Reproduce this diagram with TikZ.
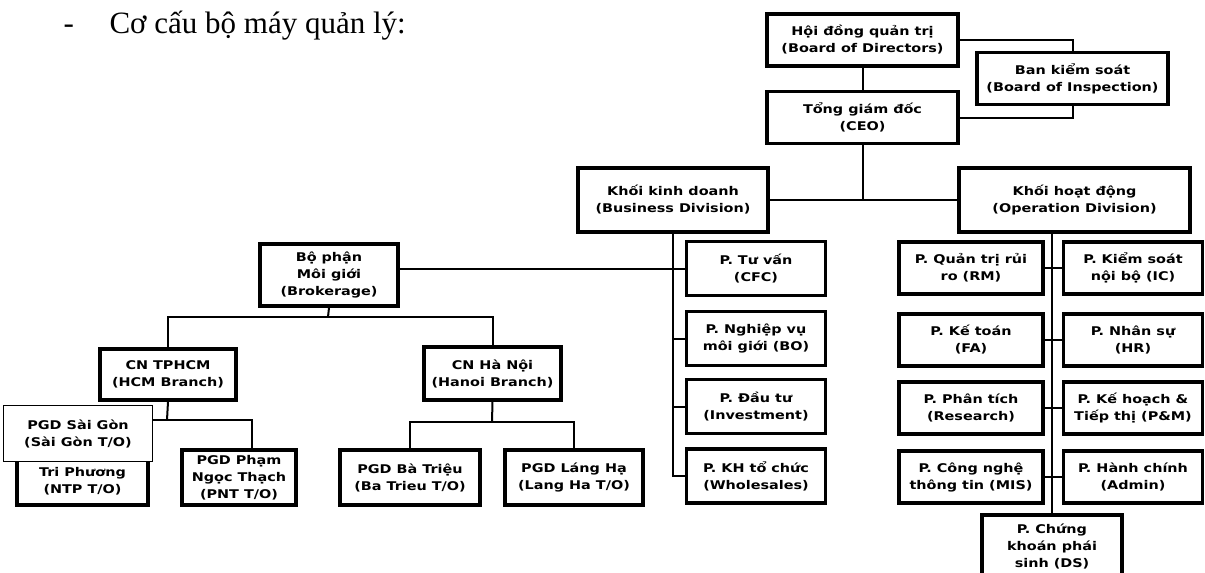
\documentclass[tikz,border=0pt]{standalone}
\usepackage{fontspec}
\setmainfont{Liberation Serif}
\newfontfamily\boxfont{DejaVu Sans}[FakeStretch=1.2]
\usetikzlibrary{backgrounds}

\begin{document}
\begin{tikzpicture}[
    x=1pt, y=-1pt,
    unit/.style={
        rectangle,
        draw=black,
        line width=3.5pt,
        fill=white,
        inner sep=0pt,
        minimum width=139pt,
        minimum height=54pt,
        font=\boxfont\bfseries\fontsize{12}{17}\selectfont,
        align=center
    },
    top/.style={minimum width=191pt, minimum height=52pt},
    thin/.style={line width=1pt},
    link/.style={draw=black, line width=2pt},
    heading/.style={anchor=base west, font=\fontsize{31}{34}\selectfont}
]
\useasboundingbox (0,0) rectangle (1205,573);

% Title
\node[heading] (dash) at (60,33) {-};
\node[heading] (title) at (106,33) {Cơ cấu bộ máy quản lý:};

% Board and CEO
\node[unit, top] (hdqt) at (862.5,40) {Hội đồng quản trị\\(Board of Directors)};
\node[unit, top] (bks) at (1072.5,78.5) {Ban kiểm soát\\(Board of Inspection)};
\node[unit, top] (ceo) at (862.5,117.5) {Tổng giám đốc\\(CEO)};

% Divisions
\node[unit, minimum width=190pt, minimum height=64pt] (kd) at (673,200) {Khối kinh doanh\\(Business Division)};
\node[unit, minimum width=231pt, minimum height=64pt] (hd) at (1074.5,200) {Khối hoạt động\\(Operation Division)};

% Brokerage
\node[unit, minimum width=138pt, minimum height=62pt] (brk) at (329,275) {Bộ phận\\Môi giới\\(Brokerage)};
\node[unit, minimum width=136pt, minimum height=51pt] (cnhcm) at (168,374.5) {CN TPHCM\\(HCM Branch)};
\node[unit, minimum width=137pt, minimum height=53pt] (cnhn) at (492.5,373.5) {CN Hà Nội\\(Hanoi Branch)};

% Transaction offices
\node[unit, minimum width=131pt, minimum height=55pt] (tp) at (82.5,477.5) {\\Tri Phương\\(NTP T/O)};
\node[unit, thin, minimum width=149pt, minimum height=56pt] (sg) at (78,433.5) {PGD Sài Gòn\\(Sài Gòn T/O)};
\node[unit, minimum width=114pt, minimum height=55pt] (pnt) at (239,477.5) {PGD Phạm\\Ngọc Thạch\\(PNT T/O)};
\node[unit, minimum width=140pt, minimum height=55pt] (bt) at (410,477.5) {PGD Bà Triệu\\(Ba Trieu T/O)};
\node[unit, minimum width=138pt, minimum height=55pt] (lh) at (574,477.5) {PGD Láng Hạ\\(Lang Ha T/O)};

% Business departments
\node[unit] (tuvan) at (756,268.5) {P. Tư vấn\\(CFC)};
\node[unit] (nvmg) at (756,338.5) {P. Nghiệp vụ\\môi giới (BO)};
\node[unit] (dautu) at (756,406.5) {P. Đầu tư\\(Investment)};
\node[unit] (khtc) at (756,476) {P. KH tổ chức\\(Wholesales)};

% Operation departments
\node[unit, minimum width=144pt, minimum height=52pt] (rm) at (971,268) {P. Quản trị rủi\\ro (RM)};
\node[unit, minimum width=144pt, minimum height=52pt] (fa) at (971,340) {P. Kế toán\\(FA)};
\node[unit, minimum width=144pt, minimum height=52pt] (res) at (971,408) {P. Phân tích\\(Research)};
\node[unit, minimum width=144pt, minimum height=52pt] (mis) at (971,477) {P. Công nghệ\\thông tin (MIS)};
\node[unit, minimum height=52pt] (ic) at (1133,268) {P. Kiểm soát\\nội bộ (IC)};
\node[unit, minimum height=52pt] (hr) at (1133,340) {P. Nhân sự\\(HR)};
\node[unit, minimum height=52pt] (pm) at (1133,408) {P. Kế hoạch \&\\Tiếp thị (P\&M)};
\node[unit, minimum height=52pt] (adm) at (1133,477) {P. Hành chính\\(Admin)};
\node[unit, minimum width=140pt, minimum height=62pt] (ds) at (1052,546) {P. Chứng\\khoán phái\\sinh (DS)};

% Connectors
\begin{scope}[on background layer]
\coordinate (divbus) at (862.5,200);
\coordinate (brkbus) at (328,317);
\coordinate (hcmbus) at (167,420);
\coordinate (hnbus) at (492,422);

\draw[link] (hdqt) -- (ceo);
\draw[link] (hdqt.east) -| (bks.north);
\draw[link] (bks.south) |- (ceo.east);
\draw[link] (ceo.south) -- (divbus);
\draw[link] (kd.east) -- (hd.west);

\draw[link] (kd.south) -- (kd.south |- khtc.west) -- (khtc.west);
\draw[link] (brk.east |- tuvan.west) -- (tuvan.west);
\foreach \n in {nvmg,dautu}
    \draw[link] (kd.south |- \n.west) -- (\n.west);

\draw[link] (brk.south) -- (brkbus);
\draw[link] (cnhcm.north) |- (brkbus) -| (cnhn.north);
\draw[link] (cnhcm.south) -- (hcmbus);
\draw[link] (tp.north) |- (hcmbus) -| ([xshift=13pt]pnt.north);
\draw[link] (cnhn.south) -- (hnbus);
\draw[link] (bt.north) |- (hnbus) -| (lh.north);

\draw[link] (ds.north) -- (ds.north |- hd.south);
\foreach \a/\b in {rm/ic,fa/hr,res/pm,mis/adm}
    \draw[link] (\a.east) -- (\b.west);
\end{scope}

\end{tikzpicture}
\end{document}
